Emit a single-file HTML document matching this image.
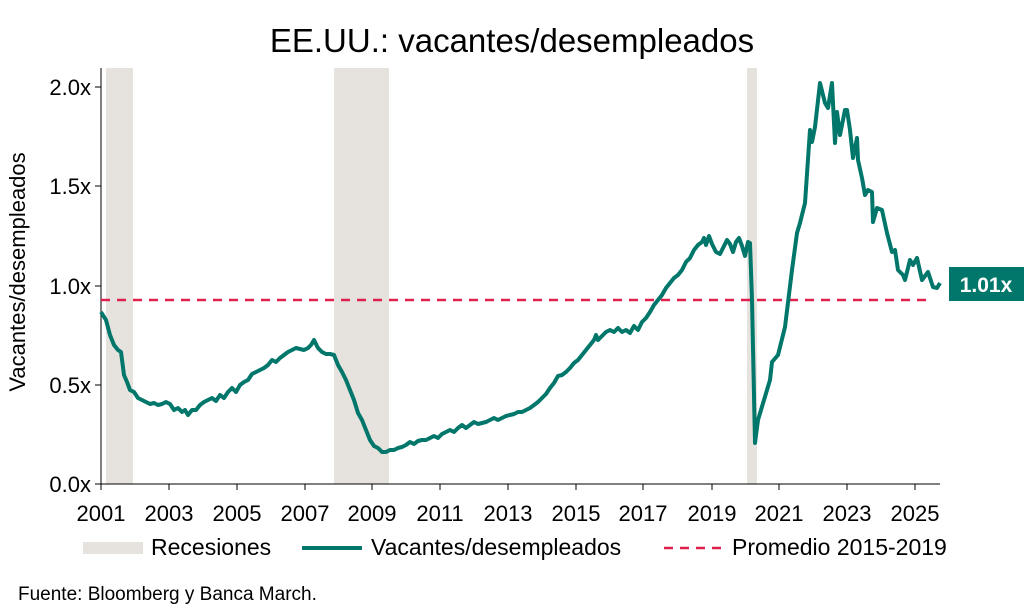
<!DOCTYPE html>
<html><head><meta charset="utf-8"><style>
body{margin:0;background:#fff;}
svg{display:block;font-family:"Liberation Sans",Arial,sans-serif;}
</style></head><body>
<svg width="1024" height="614" viewBox="0 0 1024 614">
<text x="512" y="52" font-size="33" text-anchor="middle" fill="#000">EE.UU.: vacantes/desempleados</text>
<rect x="106" y="68" width="27" height="416" fill="#e6e3de"/>
<rect x="334" y="68" width="55" height="416" fill="#e6e3de"/>
<rect x="747" y="68" width="10" height="416" fill="#e6e3de"/>
<line x1="101" y1="68" x2="101" y2="484" stroke="#000" stroke-width="1"/>
<line x1="101" y1="484" x2="940" y2="484" stroke="#000" stroke-width="1"/>
<g stroke="#000" stroke-width="1">
<line x1="95" y1="87" x2="101" y2="87"/><line x1="95" y1="186" x2="101" y2="186"/><line x1="95" y1="286" x2="101" y2="286"/><line x1="95" y1="385" x2="101" y2="385"/><line x1="95" y1="484" x2="101" y2="484"/>
<line x1="101" y1="484" x2="101" y2="490"/><line x1="169" y1="484" x2="169" y2="490"/><line x1="237" y1="484" x2="237" y2="490"/><line x1="305" y1="484" x2="305" y2="490"/><line x1="372" y1="484" x2="372" y2="490"/><line x1="440" y1="484" x2="440" y2="490"/><line x1="508" y1="484" x2="508" y2="490"/><line x1="576" y1="484" x2="576" y2="490"/><line x1="643" y1="484" x2="643" y2="490"/><line x1="712" y1="484" x2="712" y2="490"/><line x1="779" y1="484" x2="779" y2="490"/><line x1="847" y1="484" x2="847" y2="490"/><line x1="915" y1="484" x2="915" y2="490"/>
</g>
<g font-size="22" text-anchor="end" fill="#000">
<text x="91" y="95">2.0x</text><text x="91" y="194">1.5x</text><text x="91" y="294">1.0x</text><text x="91" y="393">0.5x</text><text x="91" y="492">0.0x</text>
</g>
<g font-size="22" text-anchor="middle" fill="#000">
<text x="101" y="521">2001</text><text x="169" y="521">2003</text><text x="237" y="521">2005</text><text x="305" y="521">2007</text><text x="372" y="521">2009</text><text x="440" y="521">2011</text><text x="508" y="521">2013</text><text x="576" y="521">2015</text><text x="643" y="521">2017</text><text x="712" y="521">2019</text><text x="779" y="521">2021</text><text x="847" y="521">2023</text><text x="915" y="521">2025</text>
</g>
<text transform="translate(25,272) rotate(-90)" font-size="22" text-anchor="middle" fill="#000">Vacantes/desempleados</text>
<line x1="101" y1="300" x2="930" y2="300" stroke="#e0204f" stroke-width="2.5" stroke-dasharray="9,7"/>
<polyline fill="none" stroke="#00776a" stroke-width="4" stroke-linejoin="round" points="101,312 106,320 110,335 114,345 118,350 121,352 124,375 127,382 130,390 134,392 138,398 142,400 146,402 150,404 154,403 158,405 162,404 166,402 170,404 174,410 178,408 182,412 185,410 188,415 192,410 196,410 200,405 204,402 208,400 212,398 216,401 220,395 224,398 228,392 232,388 236,392 240,385 244,382 248,380 252,374 256,372 260,370 264,368 268,365 272,360 276,362 280,358 284,355 288,352 292,350 296,348 300,349 304,350 308,348 311,345 314,340 318,348 322,352 326,354 330,354 334,355 338,365 342,372 346,380 350,390 354,400 358,413 362,420 366,430 370,440 374,446 378,448 382,452 386,452 390,450 394,450 398,448 402,447 406,445 410,442 414,444 418,441 422,440 426,440 430,438 434,436 438,438 442,434 446,432 450,430 454,432 458,428 462,425 466,428 470,425 474,422 478,424 482,423 486,422 490,420 494,418 498,420 502,418 506,416 510,415 514,414 518,412 522,412 526,410 530,408 534,405 538,402 542,398 546,394 550,388 554,383 558,376 562,375 566,372 570,368 574,363 578,360 582,355 586,350 590,345 594,340 596,335 598,340 602,336 606,332 610,330 614,332 618,328 622,332 626,330 630,333 634,326 638,330 642,322 646,318 650,312 654,305 658,300 662,295 666,288 670,283 674,278 678,275 682,270 686,262 690,258 694,250 698,245 702,242 704,238 706,245 709,236 712,244 716,252 720,254 724,246 727,240 730,244 733,252 736,242 739,238 742,246 745,256 748,242 750,243 752,300 755,443 758,420 764,400 770,380 772,362 778,355 785,327 792,270 797,233 800,223 805,203 810,130 812,142 815,127 820,83 825,103 828,108 832,83 835,143 837,112 840,135 845,110 847,110 850,130 853,158 857,138 858,160 862,178 865,195 868,190 872,192 873,222 877,208 882,210 887,233 892,252 895,250 898,270 903,275 905,280 910,260 913,265 917,258 922,280 928,272 933,287 937,288 940,283"/>
<rect x="949" y="267" width="75" height="34" fill="#00776a"/>
<text x="986" y="292" font-size="21" font-weight="bold" fill="#fff" text-anchor="middle">1.01x</text>
<rect x="83" y="542" width="60" height="12" fill="#e6e3de"/>
<text x="151" y="555" font-size="23" fill="#000">Recesiones</text>
<line x1="302" y1="548" x2="362" y2="548" stroke="#00776a" stroke-width="4"/>
<text x="371" y="555" font-size="23" fill="#000">Vacantes/desempleados</text>
<line x1="664" y1="548" x2="722" y2="548" stroke="#e0204f" stroke-width="2.5" stroke-dasharray="9,7"/>
<text x="732" y="555" font-size="23" fill="#000">Promedio 2015-2019</text>
<text x="18" y="600" font-size="19" fill="#000">Fuente: Bloomberg y Banca March.</text>
</svg>
</body></html>
